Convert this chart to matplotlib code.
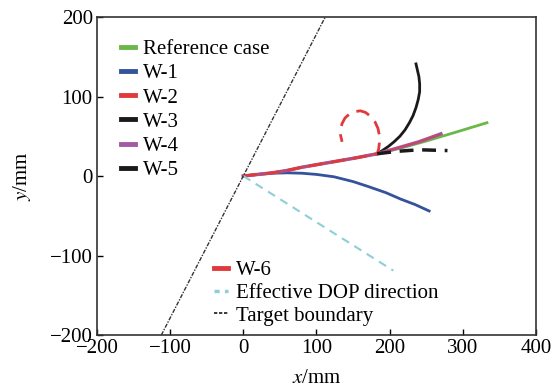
import matplotlib.pyplot as plt
from matplotlib.lines import Line2D

plt.rcParams['font.family'] = ['Liberation Serif', 'DejaVu Serif']
plt.rcParams['mathtext.fontset'] = 'stix'

# shared trunk from origin
trunk_x = [0, 20, 40, 60, 80, 105, 130, 155, 183]
trunk_y = [0, 2, 4, 7, 11, 15, 19, 23, 28]

ref_x = trunk_x + [215, 250, 290, 333]
ref_y = trunk_y + [35, 44, 55, 67]

w1_x = [0, 20, 40, 60, 80, 100, 124, 150, 170, 195, 215, 235, 254]
w1_y = [0, 2, 3.5, 4, 3.5, 2, -1, -7, -13, -21, -29, -36, -44]

w2_x = trunk_x + [185, 186, 186, 184, 180, 174, 167, 160, 152, 145, 139, 135, 133, 133, 135]
w2_y = trunk_y + [34, 42, 51, 60, 68, 75, 80, 82, 81, 78, 73, 66, 59, 51, 43]

w3_x = [183, 190, 198, 206, 214, 221, 227, 232, 236, 239, 241, 241, 240, 238, 236]
w3_y = [28, 32, 37, 43, 50, 58, 67, 76, 86, 96, 106, 116, 125, 133, 141]

w4_x = trunk_x + [210, 240, 270]
w4_y = trunk_y + [35, 43, 53]

w5_x = [183, 210, 240, 279]
w5_y = [28, 31, 33, 32]

w6_x = trunk_x + [210, 240, 268]
w6_y = trunk_y + [35, 43, 52]

dop_x = [0, 205]
dop_y = [0, -119]

bound_x = [-112, 112]
bound_y = [-200, 200]

fig = plt.figure(figsize=(5.54, 3.92), dpi=100)
ax = fig.add_axes([0.175, 0.1454, 0.7925, 0.8112])

ax.plot(ref_x, ref_y, color='#6ab84a', lw=2)
ax.plot(w1_x, w1_y, color='#34539b', lw=2)
ax.plot(w3_x, w3_y, color='#1a1a1a', lw=2)
ax.plot(w4_x, w4_y, color='#a25aa2', lw=2.5)
ax.plot(w6_x, w6_y, color='#e03a3e', lw=1.5, alpha=0.6)
ax.plot(w2_x, w2_y, color='#e03a3e', lw=2, ls=(0, (5, 3)))
ax.plot(w5_x, w5_y, color='#1a1a1a', lw=2.5, ls=(0, (4, 2.5)))
ax.plot(dop_x, dop_y, color='#8dcfd8', lw=1.5, ls=(0, (4, 3)))
ax.plot(bound_x, bound_y, color='#333333', lw=1, ls=(0, (3, 1, 1, 1)))

ax.set_xlim(-200, 400)
ax.set_ylim(-200, 200)
ax.set_xticks([-200, -100, 0, 100, 200, 300, 400])
ax.set_yticks([-200, -100, 0, 100, 200])
ax.set_xticklabels(['\u2212200', '\u2212100', '0', '100', '200', '300', '400'])
ax.set_yticklabels(['\u2212200', '\u2212100', '0', '100', '200'])
ax.tick_params(direction='in', labelsize=15, length=4, width=1, pad=3)
for s in ax.spines.values():
    s.set_linewidth(1.2)
    s.set_color('#333333')

ax.set_xlabel('$x$/mm', fontsize=15, labelpad=8)
ax.set_ylabel('$y$/mm', fontsize=15, labelpad=12)

# legend handles are short solid bars
def bar(c, ls='-', lw=3.5):
    return Line2D([], [], color=c, lw=lw, ls=ls)

leg1 = ax.legend([bar('#6ab84a'), bar('#34539b'), bar('#e03a3e'), bar('#1a1a1a'),
                  bar('#a25aa2'), bar('#1a1a1a')],
                 ['Reference case', 'W-1', 'W-2', 'W-3', 'W-4', 'W-5'],
                 loc='upper left', bbox_to_anchor=(0.035, 0.955), frameon=False,
                 fontsize=15, handlelength=0.7, handletextpad=0.35,
                 labelspacing=0.22, borderaxespad=0)
ax.add_artist(leg1)
ax.legend([bar('#e03a3e'), Line2D([], [], color='#8dcfd8', lw=2.5, ls=(0, (1.5, 1.5))),
           Line2D([], [], color='#1a1a1a', lw=1.2, ls=(0, (2, 1)))],
          ['W-6', 'Effective DOP direction', 'Target boundary'],
          loc='lower left', bbox_to_anchor=(0.245, 0.0), frameon=False,
          fontsize=15, handlelength=0.7, handletextpad=0.35,
          labelspacing=0.15, borderaxespad=0.05)

fig.savefig('out.png', dpi=100)
